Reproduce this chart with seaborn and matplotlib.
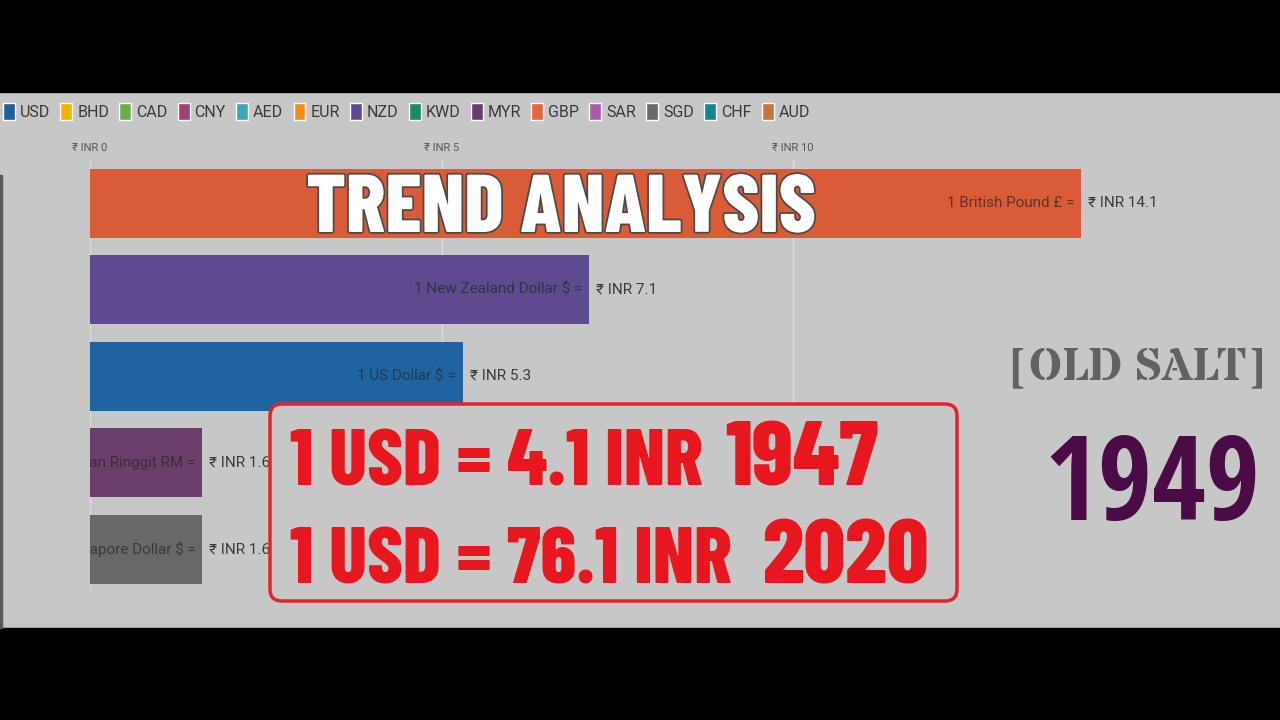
import matplotlib
matplotlib.use("Agg")
import matplotlib.pyplot as plt
import matplotlib.patheffects as pe
from matplotlib.patches import Patch, Rectangle, FancyBboxPatch
import seaborn as sns
import pandas as pd

# legend entries (all currencies of the race)
legend_codes = ['USD', 'BHD', 'CAD', 'CNY', 'AED', 'EUR', 'NZD', 'KWD', 'MYR', 'GBP', 'SAR', 'SGD', 'CHF', 'AUD']
legend_colors = ['#1f5f9b', '#f4b400', '#6aae4b', '#a53d72', '#3aa6b9', '#f28c1c', '#5b4a9b',
                 '#1b8a5a', '#6a3b70', '#e8643a', '#a858a8', '#686868', '#12868f', '#c9733f']

# bars shown in this frame
bar_codes = ['GBP', 'NZD', 'USD', 'MYR', 'SGD']
bar_names = ['1 British Pound £ =', '1 New Zealand Dollar $ =', '1 US Dollar $ =',
             '1 Malaysian Ringgit RM =', '1 Singapore Dollar $ =']
bar_values = [14.1, 7.1, 5.3, 1.6, 1.6]
bar_colors = ['#d95b37', '#5d4a8f', '#1f64a0', '#6b3e6c', '#686868']

x_ticks = [0, 5, 10]
x_tick_labels = ['₹ INR 0', '₹ INR 5', '₹ INR 10']
year = '1949'

BG = '#c7c7c7'
HEAVY = ['Barlow Condensed', 'Anton', 'DejaVu Sans']
sns.set_style('white')
plt.rcParams['font.family'] = ['Roboto', 'DejaVu Sans']

fig = plt.figure(figsize=(12.8, 7.2), dpi=100, facecolor=BG)
ax = fig.add_axes([90 / 1280, 1 - 590 / 720, 15 * 70.3 / 1280, 430 / 720])
ax.set_facecolor(BG)

df = pd.DataFrame({'code': bar_codes, 'value': bar_values})
sns.barplot(data=df, x='value', y='code', hue='code', palette=bar_colors,
            width=0.8, saturation=1, legend=False, linewidth=0, edgecolor='none', ax=ax)
ax.set_xlim(0, 15)
ax.set_ylim(4.47, -0.5)
ax.set_xticks(x_ticks)
ax.set_xticklabels(x_tick_labels)
ax.xaxis.tick_top()
ax.tick_params(axis='x', length=0, pad=5, labelsize=8, labelcolor='#555555')
ax.set_yticks([])
ax.set_xlabel('')
ax.set_ylabel('')
ax.grid(axis='x', color='#dcdcdc', lw=1)
ax.set_axisbelow(True)
sns.despine(ax=ax, left=True, bottom=True, top=True, right=True)

for i, (name, val) in enumerate(zip(bar_names, bar_values)):
    t = ax.annotate(name, (val, i), xytext=(-5, 0), textcoords='offset points',
                    ha='right', va='center', fontsize=11, color='#262626', alpha=0.7)
    t.set_clip_box(ax.bbox)
    t.set_clip_on(True)
    ax.annotate(f'₹ INR {val}', (val, i), xytext=(5, 0), textcoords='offset points',
                ha='left', va='center', fontsize=11, color='#3a3a3a', annotation_clip=False)

fig.legend(handles=[Patch(facecolor=c, label=l) for l, c in zip(legend_codes, legend_colors)],
           loc='upper left', bbox_to_anchor=(3 / 1280, 1 - 103 / 720), ncol=len(legend_codes),
           frameon=False, fontsize=11.5, handlelength=0.75, handleheight=1.3, handletextpad=0.3,
           columnspacing=0.65, labelcolor='#3a3a3a', borderaxespad=0, borderpad=0)

# overlay in pixel coordinates
ov = fig.add_axes([0, 0, 1, 1], zorder=10)
ov.set_xlim(0, 1280)
ov.set_ylim(720, 0)
ov.axis('off')
ov.add_patch(Rectangle((0, 0), 1280, 92, color='black'))
ov.add_patch(Rectangle((0, 628), 1280, 92, color='black'))
ov.add_patch(Rectangle((0, 175), 2, 453, color='#5a5a5a'))

ov.text(561, 211, 'TREND ANALYSIS', family=HEAVY, fontweight=800, fontsize=59, color='white',
        ha='center', va='center',
        path_effects=[pe.withStroke(linewidth=2.5, foreground='#4a4a4a')])

ov.add_patch(FancyBboxPatch((270, 404), 687, 197, boxstyle='round,pad=0,rounding_size=12',
                            facecolor=BG, edgecolor='#e3222d', lw=2.5))
red = '#e8161f'
ov.text(290, 485, '1 USD = 4.1 INR', family=HEAVY, fontweight=800, fontsize=57, color=red,
        ha='left', va='baseline')
ov.text(725, 485, '1947', family=HEAVY, fontweight=800, fontsize=66, color=red,
        ha='left', va='baseline')
ov.text(290, 583, '1 USD = 76.1 INR', family=HEAVY, fontweight=800, fontsize=57, color=red,
        ha='left', va='baseline')
ov.text(762, 583, '2020', family=HEAVY, fontweight=800, fontsize=66, color=red,
        ha='left', va='baseline')

ov.text(1137, 368, '[OLD SALT]', family=['Stardos Stencil', 'DejaVu Serif'], fontweight='bold',
        fontsize=33, color='#626262', ha='center', va='center')
ov.text(1152, 520, year, family=['Open Sans Condensed', 'Open Sans', 'DejaVu Sans'], fontweight='bold',
        fontsize=84, color='#4a0b47', ha='center', va='baseline')

fig.savefig('out.png', dpi=100, facecolor=BG)
